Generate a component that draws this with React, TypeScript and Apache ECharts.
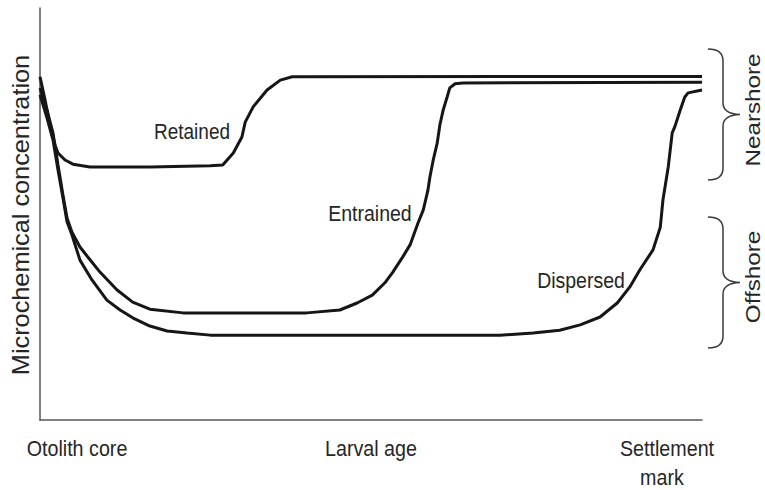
import React, { useEffect, useRef } from "react";
import * as echarts from "echarts";

// Curves: [larval age (0-100), microchemical concentration (0-100)]
const retained: [number, number][] = [
  [0, 83.3], [0.76, 77.7], [1.51, 71.6], [2.27, 66.7], [2.72, 64.8], [3.78, 63.1],
  [4.98, 62.1], [7.55, 61.4], [16.6, 61.4], [25.7, 61.7], [27.6, 61.9], [29.2, 64.8],
  [30.5, 68.7], [31.0, 72.3], [32.2, 76.0], [34.3, 80.1], [36.3, 82.5], [38.1, 83.3],
  [100, 83.4],
];

const entrained: [number, number][] = [
  [0, 80.6], [1.06, 75.2], [1.96, 69.7], [2.72, 61.9], [3.47, 54.6], [4.08, 49.0],
  [4.83, 45.6], [6.04, 42.0], [7.1, 39.8], [9.06, 35.9], [11.6, 31.6], [14.0, 28.6],
  [16.6, 26.9], [21.6, 26.0], [40.3, 26.0], [45.3, 26.7], [47.9, 28.4], [50.2, 30.3],
  [52.1, 33.3], [53.3, 35.9], [54.8, 39.6], [55.9, 42.5], [57.1, 47.8], [57.9, 51.0],
  [58.6, 55.8], [58.9, 59.0], [59.4, 63.1], [60.0, 67.2], [60.4, 71.6], [60.9, 75.2],
  [61.5, 78.4], [61.9, 80.6], [62.7, 81.6], [63.9, 81.8], [100, 82.0],
];

const dispersed: [number, number][] = [
  [0, 78.9], [1.06, 73.3], [1.96, 68.0], [2.72, 60.7], [3.47, 53.9], [4.08, 48.1],
  [4.83, 44.9], [6.04, 38.8], [7.85, 34.0], [10.1, 29.1], [12.1, 26.7], [14.0, 24.8],
  [16.6, 22.8], [19.2, 21.6], [22.2, 21.1], [25.7, 20.6], [69.5, 20.6], [74.5, 21.1],
  [78.5, 21.8], [81.6, 23.1], [84.6, 25.0], [87.2, 28.4], [89.1, 32.3], [90.6, 36.4],
  [92.6, 41.3], [93.7, 46.8], [94.1, 53.4], [94.9, 61.4], [95.5, 69.7], [95.9, 71.2],
  [96.7, 75.2], [97.4, 78.4], [97.9, 79.4], [100, 80.1],
];

const seriesNames = ["Retained", "Entrained", "Dispersed"];
const xLabels = ["Otolith core", "Larval age", "Settlement", "mark"];
const yTitle = "Microchemical concentration";
const groupLabels = ["Nearshore", "Offshore"];

const FONT = '"Liberation Sans", Arial, Helvetica, sans-serif';
const TEXT = "#262626";

const BRACE_D =
  "M0,0 C9,0 15,3 15,12 L15,54 C15,61 20,65 32,65.5 C20,66 15,70 15,77 L15,119 C15,128 9,131 0,131";

let registered = false;
function ensureShapes() {
  if (registered) return;
  echarts.graphic.registerShape("brace", echarts.graphic.extendPath(BRACE_D, {}) as any);
  registered = true;
}

function txt(text: string, x: number, y: number, size: number, rot = 0, stretch = 1.15) {
  return {
    type: "text",
    x,
    y,
    rotation: rot,
    scaleX: rot ? stretch : 1,
    scaleY: rot ? 1 : stretch,
    silent: true,
    style: {
      text,
      font: `${size}px ${FONT}`,
      fill: TEXT,
      align: "center",
      verticalAlign: "middle",
    },
  };
}

export default function App() {
  const ref = useRef<HTMLDivElement>(null);
  useEffect(() => {
    if (!ref.current) return;
    document.body.style.margin = "0";
    document.body.style.overflow = "hidden";
    ensureShapes();
    const chart = echarts.init(ref.current, undefined, { renderer: "svg" });
    const lineStyle = { color: "#161616", width: 3 };
    const mk = (name: string, data: [number, number][]) => ({
      name,
      type: "line",
      data,
      showSymbol: false,
      symbol: "none",
      smooth: false,
      lineStyle,
      silent: true,
    });
    chart.setOption({
      animation: false,
      backgroundColor: "#ffffff",
      grid: { left: 40, right: 63, top: 8, bottom: 70 },
      xAxis: {
        type: "value",
        min: 0,
        max: 100,
        axisLine: { show: true, lineStyle: { color: "#555", width: 1.5 } },
        axisTick: { show: false },
        axisLabel: { show: false },
        splitLine: { show: false },
      },
      yAxis: {
        type: "value",
        min: 0,
        max: 100,
        axisLine: { show: true, lineStyle: { color: "#555", width: 1.5 } },
        axisTick: { show: false },
        axisLabel: { show: false },
        splitLine: { show: false },
      },
      series: [
        mk(seriesNames[0], retained),
        mk(seriesNames[1], entrained),
        mk(seriesNames[2], dispersed),
      ],
      graphic: [
        txt(seriesNames[0], 192, 131, 19),
        txt(seriesNames[1], 370, 213, 19.5),
        txt(seriesNames[2], 581, 280, 19.5),
        txt(xLabels[0], 77, 448, 19.7),
        txt(xLabels[1], 371, 448, 19.7),
        txt(xLabels[2], 667, 448, 19.7),
        txt(xLabels[3], 662, 477, 19.7),
        txt(yTitle, 21, 215, 23, Math.PI / 2, 1.1),
        txt(groupLabels[0], 753, 110, 20.5, Math.PI / 2, 1.18),
        txt(groupLabels[1], 753, 277, 20.5, Math.PI / 2, 1.18),
        {
          type: "brace",
          x: 708,
          y: 49,
          silent: true,
          style: { stroke: "#3a3a3a", lineWidth: 1.5, fill: "none" },
        },
        {
          type: "brace",
          x: 708,
          y: 217,
          silent: true,
          style: { stroke: "#3a3a3a", lineWidth: 1.5, fill: "none" },
        },
      ],
    });
    return () => chart.dispose();
  }, []);
  return (
    <div
      ref={ref}
      style={{ position: "absolute", left: 0, top: 0, width: 765, height: 490 }}
    />
  );
}
